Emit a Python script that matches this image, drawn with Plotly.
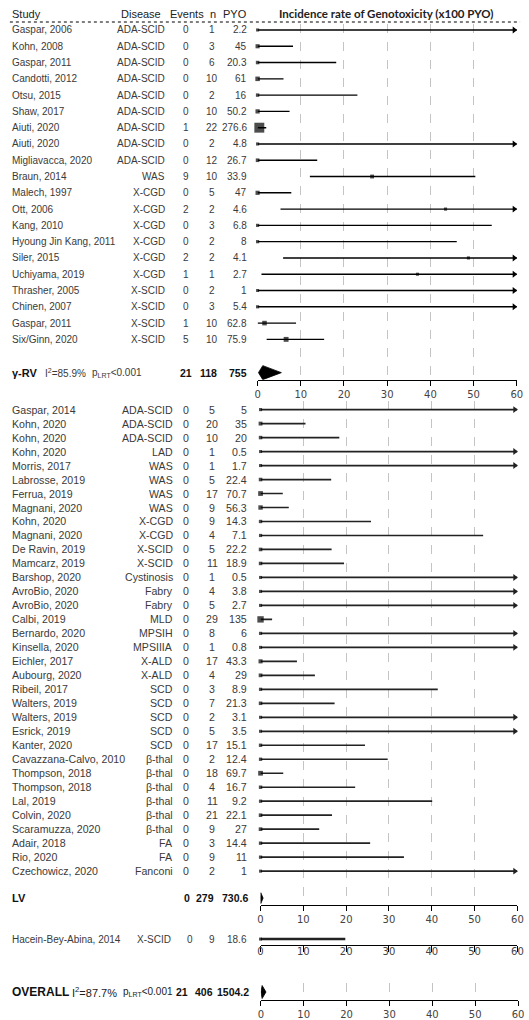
import plotly.graph_objects as go

W, H = 529, 1020

# ---- gamma-retroviral vector studies ----
rv_study = ["Gaspar, 2006", "Kohn, 2008", "Gaspar, 2011", "Candotti, 2012", "Otsu, 2015",
            "Shaw, 2017", "Aiuti, 2020", "Aiuti, 2020", "Migliavacca, 2020", "Braun, 2014",
            "Malech, 1997", "Ott, 2006", "Kang, 2010", "Hyoung Jin Kang, 2011", "Siler, 2015",
            "Uchiyama, 2019", "Thrasher, 2005", "Chinen, 2007", "Gaspar, 2011", "Six/Ginn, 2020"]
rv_disease = ["ADA-SCID", "ADA-SCID", "ADA-SCID", "ADA-SCID", "ADA-SCID", "ADA-SCID", "ADA-SCID",
              "ADA-SCID", "ADA-SCID", "WAS", "X-CGD", "X-CGD", "X-CGD", "X-CGD", "X-CGD", "X-CGD",
              "X-SCID", "X-SCID", "X-SCID", "X-SCID"]
rv_events = [0, 0, 0, 0, 0, 0, 1, 0, 0, 9, 0, 2, 0, 0, 2, 1, 0, 0, 1, 5]
rv_n = [1, 3, 6, 10, 2, 10, 22, 2, 12, 10, 5, 2, 3, 2, 2, 1, 2, 3, 10, 10]
rv_pyo = [2.2, 45, 20.3, 61, 16, 50.2, 276.6, 4.8, 26.7, 33.9, 47, 4.6, 6.8, 8, 4.1, 2.7, 1, 5.4, 62.8, 75.9]
rv_est = [0, 0, 0, 0, 0, 0, 0.4, 0, 0, 26.5, 0, 43.5, 0, 0, 48.8, 37.0, 0, 0, 1.6, 6.6]
rv_lo = [0, 0, 0, 0, 0, 0, 0, 0, 0, 12.1, 0, 5.3, 0, 0, 5.9, 0.9, 0, 0, 0, 2.1]
rv_hi = [167.7, 8.2, 18.2, 6.0, 23.1, 7.4, 2.0, 76.9, 13.8, 50.4, 7.8, 157.1, 54.2, 46.1,
         176.2, 206.3, 368.9, 68.3, 8.9, 15.4]
rv_total = {"label": "γ-RV", "i2": "85.9%", "events": 21, "n": 118, "pyo": "755"}
rv_pool = [0.2, 1.2, 5.5]

# ---- lentiviral vector studies ----
lv_study = ["Gaspar, 2014", "Kohn, 2020", "Kohn, 2020", "Kohn, 2020", "Morris, 2017",
            "Labrosse, 2019", "Ferrua, 2019", "Magnani, 2020", "Kohn, 2020", "Magnani, 2020",
            "De Ravin, 2019", "Mamcarz, 2019", "Barshop, 2020", "AvroBio, 2020", "AvroBio, 2020",
            "Calbi, 2019", "Bernardo, 2020", "Kinsella, 2020", "Eichler, 2017", "Aubourg, 2020",
            "Ribeil, 2017", "Walters, 2019", "Walters, 2019", "Esrick, 2019", "Kanter, 2020",
            "Cavazzana-Calvo, 2010", "Thompson, 2018", "Thompson, 2018", "Lal, 2019", "Colvin, 2020",
            "Scaramuzza, 2020", "Adair, 2018", "Rio, 2020", "Czechowicz, 2020"]
lv_disease = ["ADA-SCID", "ADA-SCID", "ADA-SCID", "LAD", "WAS", "WAS", "WAS", "WAS", "X-CGD",
              "X-CGD", "X-SCID", "X-SCID", "Cystinosis", "Fabry", "Fabry", "MLD", "MPSIH",
              "MPSIIIA", "X-ALD", "X-ALD", "SCD", "SCD", "SCD", "SCD", "SCD", "β-thal", "β-thal",
              "β-thal", "β-thal", "β-thal", "β-thal", "FA", "FA", "Fanconi"]
lv_events = [0] * 34
lv_n = [5, 20, 10, 1, 1, 5, 17, 9, 9, 4, 5, 11, 1, 4, 5, 29, 8, 1, 17, 4, 3, 7, 2, 5, 17, 2,
        18, 4, 11, 21, 9, 3, 9, 2]
lv_pyo = [5, 35, 20, 0.5, 1.7, 22.4, 70.7, 56.3, 14.3, 7.1, 22.2, 18.9, 0.5, 3.8, 2.7, 135, 6,
          0.8, 43.3, 29, 8.9, 21.3, 3.1, 3.5, 15.1, 12.4, 69.7, 16.7, 9.2, 22.1, 27, 14.4, 11, 1]
lv_est = [0] * 34
lv_lo = [0] * 34
lv_hi = [73.8, 10.5, 18.4, 737.8, 217.0, 16.5, 5.2, 6.6, 25.8, 52.0, 16.6, 19.5, 737.8, 97.1,
         136.6, 2.7, 61.5, 461.1, 8.5, 12.7, 41.4, 17.3, 119.0, 105.4, 24.4, 29.7, 5.3, 22.1,
         40.1, 16.7, 13.7, 25.6, 33.5, 368.9]
lv_total = {"label": "LV", "events": 0, "n": 279, "pyo": "730.6"}
lv_pool = [0.0, 0.05, 0.6]

# ---- single separate study ----
hb_study = ["Hacein-Bey-Abina, 2014"]
hb_disease = ["X-SCID"]
hb_events = [0]
hb_n = [9]
hb_pyo = [18.6]
hb_est = [0]
hb_lo = [0]
hb_hi = [19.8]

# ---- overall ----
all_total = {"label": "OVERALL", "i2": "87.7%", "events": 21, "n": 406, "pyo": "1504.2"}
all_pool = [0.02, 0.3, 1.2]

ticks = [0, 10, 20, 30, 40, 50, 60]
XMAX = 60

TXT = "Liberation Sans, Arial, sans-serif"
TXT_COL = "#3a3a3a"


def px_x(p):
    return p / W


def px_y(p):
    return 1 - p / H


fig = go.Figure()
annotations = []
shapes = []


def text(x, y, s, anchor="left", size=10, color=TXT_COL, bold=False, family=TXT):
    if bold:
        s = "<b>" + s + "</b>"
    annotations.append(dict(x=px_x(x), y=px_y(y), xref="paper", yref="paper", text=s,
                            showarrow=False, xanchor=anchor, yanchor="middle",
                            font=dict(size=size, color=color, family=family)))


# panels: (x-left px, x-right px, y-top px, y-bottom px, grid)
panels = {
    1: (259, 522.7, 24, 380, True),
    2: (262, 523.3, 401, 906, True),
    3: (262, 523.3, 934, 946, False),
    4: (262.3, 524, 984, 1001, True),
}
layout_axes = {}
for k, (x0, x1, y0, y1, grid) in panels.items():
    sfx = "" if k == 1 else str(k)
    layout_axes["xaxis" + sfx] = dict(
        domain=[px_x(x0), px_x(x1)], anchor="y" + sfx, range=[0, XMAX],
        tickvals=ticks, ticks="outside", ticklen=5, tickcolor="black", tickwidth=1,
        showline=True, linecolor="black", linewidth=1, zeroline=False,
        showgrid=grid, gridcolor="#c4c4c4", griddash="dash", gridwidth=1,
        ticklabeloverflow="allow",
        tickfont=dict(family="DejaVu Sans", size=10, color="#444"), fixedrange=True)
    layout_axes["yaxis" + sfx] = dict(
        domain=[px_y(y1), px_y(y0)], anchor="x" + sfx, range=[y1, y0],
        showticklabels=False, showgrid=False, zeroline=False, showline=False,
        ticks="", fixedrange=True)
layout_axes["xaxis3"].update(ticklen=6, ticklabelstandoff=-9)


def add_rows(k, ys, est, lo, hi, pyo, color, lw):
    sfx = "" if k == 1 else str(k)
    xs, yy = [], []
    for y, a, b in zip(ys, lo, hi):
        xs += [a, min(b, XMAX), None]
        yy += [y, y, None]
    fig.add_trace(go.Scatter(x=xs, y=yy, mode="lines", line=dict(color=color, width=lw),
                             xaxis="x" + sfx, yaxis="y" + sfx, cliponaxis=False,
                             hoverinfo="skip"))
    fig.add_trace(go.Scatter(x=est, y=ys, mode="markers",
                             marker=dict(symbol="square", color="black",
                                         size=[3 + 0.025 * p for p in pyo], line=dict(width=0)),
                             xaxis="x" + sfx, yaxis="y" + sfx, cliponaxis=False))
    ay = [y for y, b in zip(ys, hi) if b > XMAX]
    if ay:
        fig.add_trace(go.Scatter(x=[XMAX - 0.6] * len(ay), y=ay, mode="markers",
                                 marker=dict(symbol="triangle-right", color=color, size=6,
                                             line=dict(width=0)),
                                 xaxis="x" + sfx, yaxis="y" + sfx, cliponaxis=False))


def add_diamond(k, y, pool, h):
    sfx = "" if k == 1 else str(k)
    lo, est, hi = pool
    fig.add_trace(go.Scatter(x=[lo, est, hi, est, lo], y=[y, y - h, y, y + h, y],
                             mode="lines", fill="toself", fillcolor="black",
                             line=dict(color="black", width=0.8),
                             xaxis="x" + sfx, yaxis="y" + sfx, cliponaxis=False))


def add_table(ys, study, disease, events, n, pyo, dis_right, ev_x, size):
    for y, s, d, e, m, p in zip(ys, study, disease, events, n, pyo):
        text(7, y, s, size=size)
        text(dis_right, y, d, anchor="right", size=size)
        text(ev_x, y, str(e), anchor="center", size=size)
        text(213, y, str(m), anchor="center", size=size)
        text(250, y, f"{p:g}", anchor="right", size=size)


# header
hy = 14
text(7, hy, "Study", size=11, color="#222")
text(118, hy, "Disease", size=11, color="#222")
text(168, hy, "Events", size=11, color="#222")
text(214, hy, "n", anchor="center", size=11, color="#222")
text(250, hy, "PYO", anchor="right", size=11, color="#222")
text(390, hy, "Incidence rate of Genotoxicity (x100 PYO)", anchor="center", size=11.5,
     color="#222", bold=True, family="Lato, Open Sans, sans-serif")
shapes.append(dict(type="line", xref="paper", yref="paper", x0=px_x(7), x1=px_x(526),
                   y0=px_y(22), y1=px_y(22), line=dict(color="#555", width=1.3, dash="3px,3px")))

# gamma-RV block
rv_y = [30 + 16.3 * i for i in range(len(rv_study))]
add_table(rv_y, rv_study, rv_disease, rv_events, rv_n, rv_pyo, 167, 186, 10)
add_rows(1, rv_y, rv_est, rv_lo, rv_hi, rv_pyo, "black", 1.4)
sy = 373
text(7, sy, rv_total["label"], size=11, color="#111", bold=True)
text(41, sy, "I<sup>2</sup>=" + rv_total["i2"], size=10)
text(88, sy, "p<sub>LRT</sub>&lt;0.001", size=10)
text(186, sy, str(rv_total["events"]), anchor="center", size=10.5, color="#111", bold=True)
text(209, sy, str(rv_total["n"]), anchor="center", size=10.5, color="#111", bold=True)
text(250, sy, rv_total["pyo"], anchor="right", size=10.5, color="#111", bold=True)
add_diamond(1, sy, rv_pool, 7)

# LV block
lv_y = [410 + 14 * i for i in range(len(lv_study))]
add_table(lv_y, lv_study, lv_disease, lv_events, lv_n, lv_pyo, 175, 186, 10.6)
add_rows(2, lv_y, lv_est, lv_lo, lv_hi, lv_pyo, "#222", 1.7)
sy = 899
text(7, sy, lv_total["label"], size=11, color="#111", bold=True)
text(187.5, sy, str(lv_total["events"]), anchor="center", size=10.5, color="#111", bold=True)
text(206, sy, str(lv_total["n"]), anchor="center", size=10.5, color="#111", bold=True)
text(251, sy, lv_total["pyo"], anchor="right", size=10.5, color="#111", bold=True)
add_diamond(2, sy, lv_pool, 5.5)

# separate study
hb_y = [940]
add_table(hb_y, hb_study, hb_disease, hb_events, hb_n, hb_pyo, 173, 190, 10)
add_rows(3, hb_y, hb_est, hb_lo, hb_hi, [0], "#222", 2.4)

# overall
sy = 993
text(7, sy, all_total["label"], size=12, color="#111", bold=True)
text(68, sy, "I<sup>2</sup>=" + all_total["i2"], size=11, color="#222")
text(120, sy, "p<sub>LRT</sub>&lt;0.001", size=10, color="#222")
text(182, sy, str(all_total["events"]), anchor="center", size=10.5, color="#111", bold=True)
text(204, sy, str(all_total["n"]), anchor="center", size=10.5, color="#111", bold=True)
text(252, sy, all_total["pyo"], anchor="right", size=10.5, color="#111", bold=True)
add_diamond(4, sy, all_pool, 6.5)

fig.update_layout(width=W, height=H, margin=dict(l=0, r=0, t=0, b=0),
                  paper_bgcolor="white", plot_bgcolor="white", showlegend=False,
                  annotations=annotations, shapes=shapes, **layout_axes)

fig.write_html("out.html")
